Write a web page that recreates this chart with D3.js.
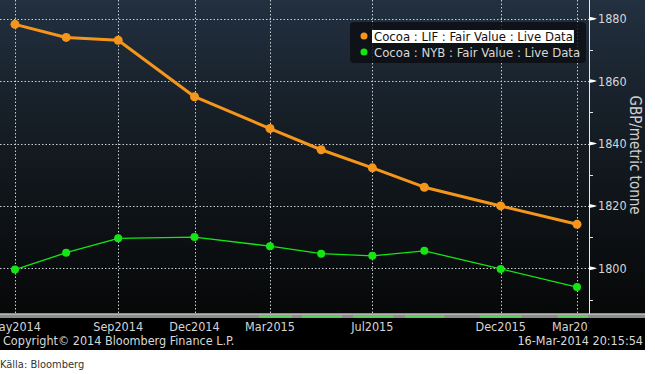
<!DOCTYPE html>
<html>
<head>
<meta charset="utf-8">
<script src="https://cdn.jsdelivr.net/npm/d3@7"></script>
<style>
  body { margin: 0; background: #fff; }
  text { font-family: "DejaVu Sans Condensed", "DejaVu Sans", sans-serif; }
</style>
</head>
<body>
<div id="chart"></div>
<script>
const width = 655;
const height = 374;

// contract months and fair values (GBP/metric tonne)
const months = ['2014-05', '2014-07', '2014-09', '2014-12', '2015-03', '2015-05', '2015-07', '2015-09', '2015-12', '2016-03'];
const lifValues = [1878.2, 1874, 1873.1, 1855, 1844.8, 1838, 1832.2, 1826, 1820, 1814.1];
const nybValues = [1799.6, 1805, 1809.6, 1810, 1807.1, 1804.7, 1804, 1805.6, 1799.8, 1794];

const seriesNames = ['Cocoa : LIF : Fair Value : Live Data', 'Cocoa : NYB : Fair Value : Live Data'];
const seriesColors = ['#f5961c', '#14e614'];

const xTicks = ['2014-05', '2014-09', '2014-12', '2015-03', '2015-07', '2015-12', '2016-03'];
const yTicks = [1800, 1820, 1840, 1860, 1880];
const yMinorTicks = [1790, 1810, 1830, 1850, 1870];

// green segments on the scroll band under the plot
const bandRanges = [
  ['2015-02-16', '2015-03-27'],
  ['2015-04-08', '2015-05-26'],
  ['2015-06-08', '2015-07-26'],
  ['2015-08-09', '2015-09-25'],
  ['2015-11-06', '2015-12-26'],
  ['2016-02-07', '2016-03-14'],
];

const parseMonth = d3.timeParse('%Y-%m');
const parseDay = d3.timeParse('%Y-%m-%d');

const plotRight = 589;
const plotBottom = 313;
const panelRight = 645;
const panelBottom = 350;

const svg = d3
  .select('#chart')
  .append('svg')
  .attr('width', width)
  .attr('height', height);

const defs = svg.append('defs');

const grad = defs
  .append('linearGradient')
  .attr('id', 'bg')
  .attr('gradientUnits', 'userSpaceOnUse')
  .attr('x1', 0)
  .attr('y1', 0)
  .attr('x2', 0)
  .attr('y2', plotBottom);
grad.append('stop').attr('offset', 0).attr('stop-color', '#223040');
grad.append('stop').attr('offset', 0.45).attr('stop-color', '#141b22');
grad.append('stop').attr('offset', 1).attr('stop-color', '#070808');

defs
  .append('clipPath')
  .attr('id', 'plotClip')
  .append('rect')
  .attr('x', 0)
  .attr('y', 0)
  .attr('width', plotRight)
  .attr('height', panelBottom);

// panel background
svg
  .append('rect')
  .attr('width', panelRight)
  .attr('height', panelBottom)
  .attr('fill', '#000');
svg
  .append('rect')
  .attr('width', panelRight)
  .attr('height', plotBottom)
  .attr('fill', 'url(#bg)');

const x = d3
  .scaleTime()
  .domain([parseMonth('2014-05'), parseMonth('2016-03')])
  .range([15, 577]);

const y = d3.scaleLinear().domain([1786, 1886]).range([plotBottom - 1, 0]);

// grid
const grid = svg.append('g').attr('clip-path', 'url(#plotClip)');
grid
  .selectAll('.hgrid')
  .data(yTicks)
  .enter()
  .append('line')
  .attr('x1', 0)
  .attr('x2', plotRight)
  .attr('y1', (d) => Math.round(y(d)) + 0.5)
  .attr('y2', (d) => Math.round(y(d)) + 0.5)
  .attr('stroke', '#c9ced3')
  .attr('stroke-dasharray', '1.5,2');
grid
  .selectAll('.vgrid')
  .data(xTicks)
  .enter()
  .append('line')
  .attr('x1', (d) => Math.round(x(parseMonth(d))) + 0.5)
  .attr('x2', (d) => Math.round(x(parseMonth(d))) + 0.5)
  .attr('y1', 0)
  .attr('y2', plotBottom + 4)
  .attr('stroke', '#c9ced3')
  .attr('stroke-dasharray', '1.5,2');

// band
svg
  .append('rect')
  .attr('x', 0)
  .attr('y', plotBottom)
  .attr('width', panelRight)
  .attr('height', 5)
  .attr('fill', '#8c8c8c');
svg
  .append('rect')
  .attr('x', 0)
  .attr('y', plotBottom + 1)
  .attr('width', panelRight)
  .attr('height', 1)
  .attr('fill', '#b4b4b4');
svg
  .selectAll('.band')
  .data(bandRanges)
  .enter()
  .append('rect')
  .attr('x', (d) => x(parseDay(d[0])))
  .attr('width', (d) => x(parseDay(d[1])) - x(parseDay(d[0])))
  .attr('y', plotBottom + 2.5)
  .attr('height', 2)
  .attr('fill', '#5fd35f');

// x labels
svg
  .append('g')
  .attr('clip-path', 'url(#plotClip)')
  .selectAll('text')
  .data(xTicks)
  .enter()
  .append('text')
  .attr('x', (d) => x(parseMonth(d)))
  .attr('y', 331)
  .attr('text-anchor', 'middle')
  .attr('fill', '#d4d4d4')
  .style('font-size', '12.5px')
  .text((d) => d3.timeFormat('%b%Y')(parseMonth(d)));

// series
const series = [lifValues, nybValues];
const line = d3
  .line()
  .x((d, i) => x(parseMonth(months[i])))
  .y((d) => y(d));

const seriesG = svg.append('g').attr('clip-path', 'url(#plotClip)');
series.forEach((values, k) => {
  seriesG
    .append('path')
    .datum(values)
    .attr('d', line)
    .attr('fill', 'none')
    .attr('stroke', seriesColors[k])
    .attr('stroke-width', k === 0 ? 3 : 1.3)
    .attr('stroke-linejoin', 'round');
  seriesG
    .selectAll('.pt' + k)
    .data(values)
    .enter()
    .append('circle')
    .attr('cx', (d, i) => x(parseMonth(months[i])))
    .attr('cy', (d) => y(d))
    .attr('r', k === 0 ? 4.5 : 4)
    .attr('fill', seriesColors[k]);
});

// right axis
const axisG = svg.append('g');
axisG
  .append('line')
  .attr('x1', plotRight + 0.5)
  .attr('x2', plotRight + 0.5)
  .attr('y1', 0)
  .attr('y2', plotBottom + 1)
  .attr('stroke', '#e8e8e8');
axisG
  .selectAll('.major')
  .data(yTicks)
  .enter()
  .append('path')
  .attr('d', (d) => {
    const yy = y(d);
    return `M${plotRight},${yy - 2}L${plotRight + 5},${yy - 1}L${plotRight + 8},${yy}L${plotRight + 5},${yy + 1}L${plotRight},${yy + 2}Z`;
  })
  .attr('fill', '#ffffff');
axisG
  .selectAll('.minor')
  .data(yMinorTicks)
  .enter()
  .append('line')
  .attr('x1', plotRight)
  .attr('x2', plotRight + 4)
  .attr('y1', (d) => Math.round(y(d)) + 0.5)
  .attr('y2', (d) => Math.round(y(d)) + 0.5)
  .attr('stroke', '#e8e8e8');
axisG
  .selectAll('.ylab')
  .data(yTicks)
  .enter()
  .append('text')
  .attr('x', 598)
  .attr('y', (d) => y(d) + 4.5)
  .attr('fill', '#d6d6d6')
  .style('font-size', '12.5px')
  .text((d) => d);

svg
  .append('text')
  .attr('transform', 'translate(630,155) rotate(90)')
  .attr('text-anchor', 'middle')
  .attr('fill', '#cfcfcf')
  .style('font-size', '15px')
  .text('GBP/metric tonne');

// legend
const legend = svg.append('g');
legend
  .append('rect')
  .attr('x', 350)
  .attr('y', 22)
  .attr('width', 236)
  .attr('height', 41)
  .attr('rx', 4)
  .attr('fill', '#0b0e12')
  .attr('fill-opacity', 0.8);
const highlight = legend
  .append('rect')
  .attr('x', 372)
  .attr('y', 30)
  .attr('height', 13)
  .attr('fill', '#ffffff');
seriesNames.forEach((name, k) => {
  const ly = 36 + k * 16;
  legend
    .append('circle')
    .attr('cx', 364)
    .attr('cy', ly)
    .attr('r', 3.5)
    .attr('fill', seriesColors[k]);
  const t = legend
    .append('text')
    .attr('x', 374)
    .attr('y', ly + 4.5)
    .attr('fill', k === 0 ? '#111' : '#d8d8d8')
    .style('font-size', '13px')
    .text(name);
  if (k === 0) highlight.attr('width', t.node().getComputedTextLength() + 3);
});

// footer
svg
  .append('text')
  .attr('x', 3)
  .attr('y', 345)
  .attr('fill', '#d8d8d8')
  .style('font-size', '12.5px')
  .text('Copyright\u00a9 2014 Bloomberg Finance L.P.');
svg
  .append('text')
  .attr('x', 643)
  .attr('y', 345)
  .attr('text-anchor', 'end')
  .attr('fill', '#d8d8d8')
  .style('font-size', '12.5px')
  .text('16-Mar-2014 20:15:54');

svg
  .append('text')
  .attr('x', 0)
  .attr('y', 368)
  .attr('fill', '#333')
  .style('font-family', '"Liberation Sans Narrow", "DejaVu Sans Condensed", sans-serif')
  .style('font-size', '11px')
  .text('Källa: Bloomberg');
</script>
</body>
</html>
